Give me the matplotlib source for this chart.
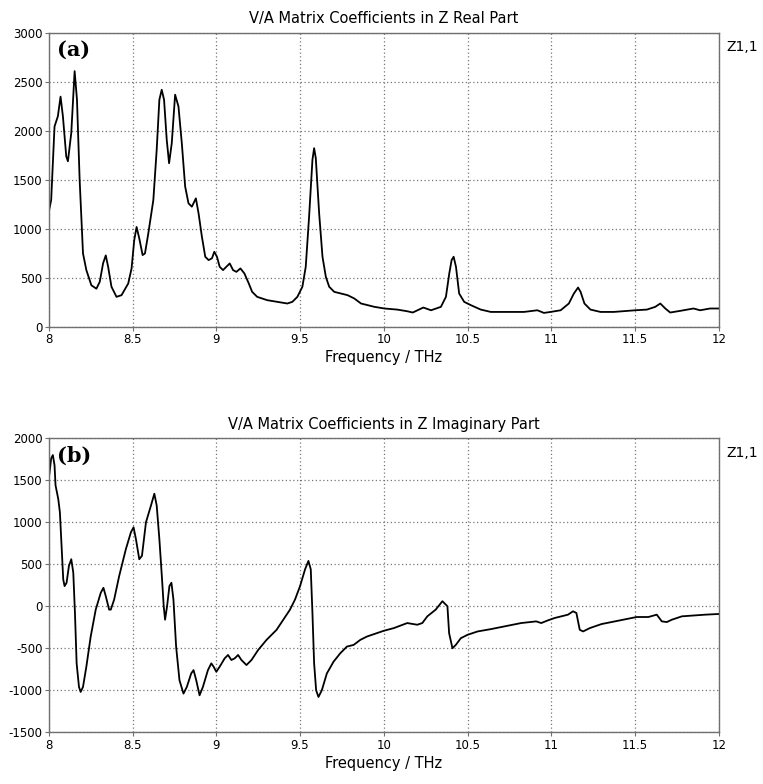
import numpy as np
import matplotlib.pyplot as plt

# (a) real part
f_re = [8.0, 8.014, 8.034, 8.054, 8.07, 8.084, 8.104, 8.114, 8.134, 8.154, 8.168,
        8.184, 8.204, 8.224, 8.254, 8.284, 8.304, 8.324, 8.34, 8.354, 8.374, 8.404,
        8.434, 8.474, 8.494, 8.51, 8.524, 8.54, 8.56, 8.574, 8.594, 8.624, 8.644,
        8.66, 8.674, 8.688, 8.704, 8.718, 8.734, 8.754, 8.774, 8.794, 8.814, 8.834,
        8.854, 8.878, 8.894, 8.914, 8.934, 8.954, 8.974, 8.988, 9.004, 9.02, 9.04,
        9.06, 9.08, 9.1, 9.12, 9.144, 9.168, 9.194, 9.214, 9.244, 9.304, 9.364,
        9.424, 9.454, 9.484, 9.514, 9.534, 9.554, 9.574, 9.584, 9.594, 9.614, 9.634,
        9.654, 9.674, 9.704, 9.744, 9.784, 9.824, 9.864, 9.904, 9.944, 10.004,
        10.08, 10.14, 10.173, 10.202, 10.236, 10.282, 10.341, 10.371, 10.391,
        10.405, 10.417, 10.431, 10.45, 10.48, 10.52, 10.579, 10.639, 10.738,
        10.837, 10.917, 10.956, 10.996, 11.056, 11.105, 11.135, 11.16, 11.175,
        11.198, 11.234, 11.294, 11.373, 11.502, 11.571, 11.621, 11.651, 11.681,
        11.71, 11.77, 11.849, 11.889, 11.948, 12.0]
z_re = [1176, 1295, 2045, 2150, 2350, 2150, 1740, 1690, 1980, 2610, 2320,
        1500, 750, 580, 425, 390, 460, 650, 730, 614, 410, 307,
        324, 443, 597, 886, 1020, 903, 733, 750, 955, 1295, 1807,
        2318, 2420, 2318, 1909, 1670, 1875, 2370, 2250, 1875, 1432, 1261,
        1227, 1312, 1159, 920, 716, 682, 700, 767, 716, 614, 580,
        614, 648, 580, 562, 597, 545, 443, 358, 307, 273, 256,
        239, 256, 307, 410, 614, 1125, 1705, 1824, 1722, 1159, 716,
        511, 410, 358, 341, 324, 290, 239, 222, 205, 188,
        177, 160, 147, 170, 198, 170, 205, 307,
        545, 682, 716, 614, 341, 256, 222, 177, 153, 153,
        153, 170, 143, 153, 170, 239, 341, 402, 358,
        239, 177, 153, 153, 170, 177, 205, 239, 188,
        147, 164, 188, 170, 188, 188]

# (b) imaginary part
f_im = [8.0, 8.014, 8.024, 8.034, 8.04, 8.056, 8.066, 8.076, 8.086, 8.094, 8.106,
        8.12, 8.134, 8.146, 8.156, 8.166, 8.18, 8.19, 8.204, 8.224, 8.25, 8.28,
        8.31, 8.326, 8.34, 8.36, 8.37, 8.39, 8.42, 8.46, 8.49, 8.506, 8.52, 8.54,
        8.556, 8.58, 8.61, 8.63, 8.644, 8.66, 8.676, 8.686, 8.694, 8.706, 8.72,
        8.732, 8.744, 8.76, 8.78, 8.804, 8.824, 8.85, 8.864, 8.88, 8.9, 8.92,
        8.95, 8.97, 8.984, 9.0, 9.02, 9.05, 9.07, 9.09, 9.11, 9.13, 9.15, 9.18,
        9.21, 9.25, 9.3, 9.36, 9.4, 9.44, 9.47, 9.5, 9.53, 9.55, 9.564, 9.574,
        9.584, 9.596, 9.61, 9.63, 9.66, 9.7, 9.74, 9.78, 9.82, 9.86, 9.9, 9.96,
        10.0, 10.06, 10.14, 10.2, 10.23, 10.26, 10.31, 10.35, 10.38, 10.39, 10.41,
        10.43, 10.46, 10.5, 10.56, 10.64, 10.74, 10.82, 10.91, 10.94, 10.98, 11.02,
        11.1, 11.13, 11.15, 11.17, 11.19, 11.23, 11.3, 11.38, 11.46, 11.51, 11.58,
        11.63, 11.66, 11.69, 11.72, 11.78, 11.86, 11.92, 12.0]
z_im = [1520, 1760, 1800, 1680, 1440, 1280, 1120, 720, 320, 240, 280,
        480, 560, 400, -80, -680, -960, -1020, -960, -720, -360, -40,
        160, 220, 120, -40, -40, 80, 360, 680, 880, 940, 800, 560,
        600, 1000, 1200, 1340, 1200, 800, 320, 0, -160, 0, 240,
        280, 80, -480, -880, -1040, -960, -800, -760, -880, -1060, -960,
        -760, -680, -720, -780, -720, -620, -580, -640, -620, -580, -640, -700,
        -640, -520, -400, -280, -160, -40, 80, 240, 440, 540, 440, -80,
        -680, -1000, -1080, -1000, -800, -660, -560, -480, -460, -400, -360, -320,
        -292, -260, -200, -220, -200, -120, -40, 60, 0, -320, -500,
        -460, -380, -340, -300, -272, -232, -200, -180, -200, -168, -140,
        -100, -60, -80, -280, -300, -260, -212, -180, -148, -128, -128,
        -100, -180, -188, -160, -120, -108, -100, -92]

x_ticks = [8, 8.5, 9, 9.5, 10, 10.5, 11, 11.5, 12]
x_tick_labels = ["8", "8.5", "9", "9.5", "10", "10.5", "11", "11.5", "12"]

plt.rcParams['font.family'] = ['DejaVu Sans']
plt.rcParams['axes.unicode_minus'] = False
fig = plt.figure(figsize=(7.63, 7.84), dpi=100)

panels = [
    (f_re, z_re, "V/A Matrix Coefficients in Z Real Part", "(a)",
     [0.064, 0.583, 0.878, 0.375], (0, 3000), np.arange(0, 3001, 500)),
    (f_im, z_im, "V/A Matrix Coefficients in Z Imaginary Part", "(b)",
     [0.064, 0.066, 0.878, 0.375], (-1500, 2000), np.arange(-1500, 2001, 500)),
]

for f, z, title, tag, pos, ylim, yt in panels:
    ax = fig.add_axes(pos)
    ax.plot(f, z, color="black", lw=1.3)
    ax.set_xlim(8, 12)
    ax.set_ylim(*ylim)
    ax.set_xticks(x_ticks)
    ax.set_xticklabels(x_tick_labels)
    ax.set_yticks(yt)
    ax.grid(True, linestyle=(0, (1, 2)), color="#777777", lw=0.9)
    for s in ax.spines.values():
        s.set_color("#707070")
        s.set_linewidth(1.0)
    ax.tick_params(direction="out", length=3, color="#707070", labelsize=8.5, pad=1.5)
    ax.set_title(title, fontsize=10.5, pad=7)
    ax.set_xlabel("Frequency / THz", fontsize=10.5, labelpad=3)
    ax.text(0.012, 0.975, tag, transform=ax.transAxes, ha="left", va="top",
            fontsize=15, fontweight="bold", family="DejaVu Serif")
    ax.text(1.012, 0.975, "Z1,1", transform=ax.transAxes, ha="left", va="top",
            fontsize=10)

fig.savefig("out.png", dpi=100)
